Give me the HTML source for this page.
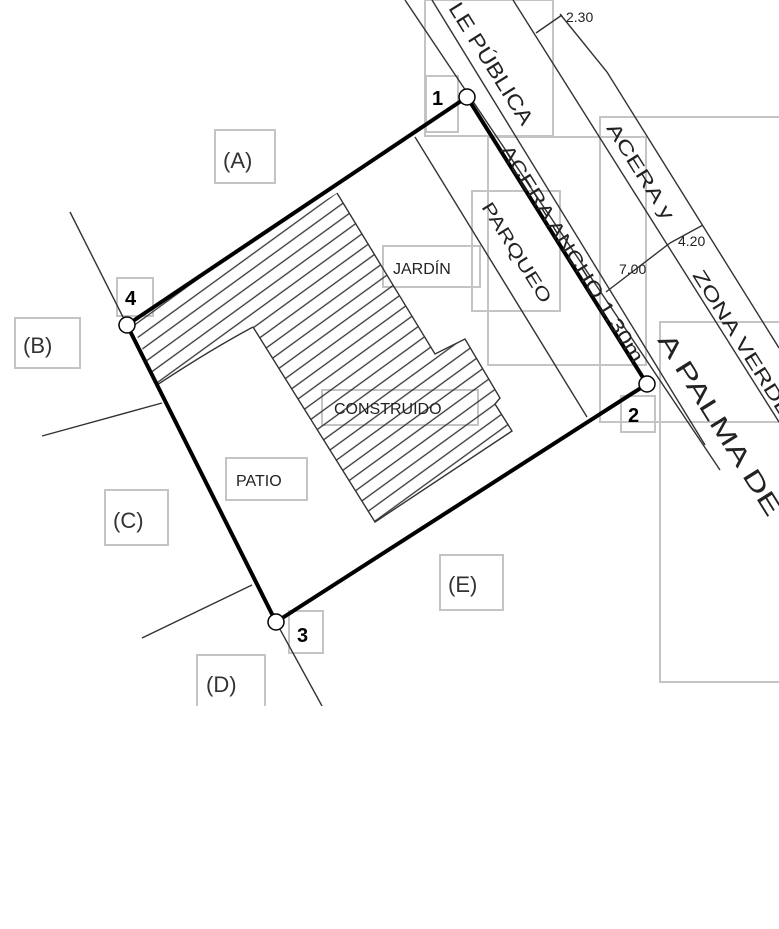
<!DOCTYPE html>
<html><head><meta charset="utf-8"><style>html,body{margin:0;padding:0;background:#fff}svg{display:block}</style></head>
<body>
<svg width="779" height="929" viewBox="0 0 779 929" xmlns="http://www.w3.org/2000/svg" font-family="'Liberation Sans', sans-serif">
<defs>
<pattern id="h" width="12" height="12" patternUnits="userSpaceOnUse" patternTransform="rotate(-36)">
<line x1="0" y1="6" x2="12" y2="6" stroke="#333" stroke-width="1.3"/>
</pattern>
<clipPath id="c"><rect x="0" y="0" width="779" height="706"/></clipPath>
</defs>
<g clip-path="url(#c)">
<g fill="none" stroke="#c4c4c4" stroke-width="2">
<rect x="425" y="0" width="128" height="136"/>
<rect x="488" y="137" width="158" height="228"/>
<rect x="472" y="191" width="88" height="120"/>
<rect x="600" y="117" width="190" height="305"/>
<rect x="660" y="322" width="130" height="360"/>
<rect x="383" y="246" width="97" height="41"/>
<rect x="322" y="390" width="156" height="35"/>
<rect x="226" y="458" width="81" height="42"/>
<rect x="215" y="130" width="60" height="53"/>
<rect x="15" y="318" width="65" height="50"/>
<rect x="105" y="490" width="63" height="55"/>
<rect x="197" y="655" width="68" height="52"/>
<rect x="440" y="555" width="63" height="55"/>
<rect x="426" y="76" width="32" height="56"/>
<rect x="117" y="278" width="36" height="38"/>
<rect x="621" y="396" width="34" height="36"/>
<rect x="289" y="611" width="34" height="42"/>
</g>
<path d="M131,321 L337,193 L435,354 L465,339 L500,398 L495,404 L512,431 L375,522 L253,327 Q210,350 157,385 Z" fill="url(#h)" stroke="none"/>
<polyline points="337,193 435,354 465,339 500,398 495,404 512,431 375,522 253,327" fill="none" stroke="#333" stroke-width="1.4"/>
<path d="M253,327 Q210,350 157,385" fill="none" stroke="#333" stroke-width="1.4"/>
<g stroke="#333" stroke-width="1.4" fill="none">
<line x1="405" y1="0" x2="720" y2="470"/>
<line x1="432" y1="0" x2="705" y2="445"/>
<line x1="415" y1="137" x2="587" y2="417"/>
<line x1="513" y1="0" x2="779" y2="422"/>
<polyline points="560,14 607,72 779,348"/>
<line x1="70" y1="212" x2="127" y2="325"/>
<line x1="276" y1="622" x2="322" y2="706"/>
<line x1="42" y1="436" x2="162" y2="403"/>
<line x1="142" y1="638" x2="252" y2="585"/>
<line x1="536" y1="33" x2="562" y2="15"/>
<line x1="606" y1="292" x2="670" y2="243"/>
<line x1="670" y1="243" x2="703" y2="225"/>
</g>
<polygon points="467,97 647,384 276,622 127,325" fill="none" stroke="#000" stroke-width="4"/>
<g fill="#fff" stroke="#000" stroke-width="1.5">
<circle cx="467" cy="97" r="8"/><circle cx="647" cy="384" r="8"/><circle cx="276" cy="622" r="8"/><circle cx="127" cy="325" r="8"/>
</g>
<g fill="#333" font-size="22">
<text x="223" y="168">(A)</text>
<text x="23" y="353">(B)</text>
<text x="113" y="528">(C)</text>
<text x="206" y="692">(D)</text>
<text x="448" y="592">(E)</text>
</g>
<g fill="#000" font-size="20" font-weight="bold">
<text x="432" y="105">1</text>
<text x="125" y="305">4</text>
<text x="628" y="422">2</text>
<text x="297" y="642">3</text>
</g>
<g fill="#222" font-size="16">
<text x="393" y="274">JARDÍN</text>
<text x="334" y="414">CONSTRUIDO</text>
<text x="236" y="486">PATIO</text>
<text x="566" y="22" font-size="14">2.30</text>
<text x="678" y="246" font-size="14">4.20</text>
<text x="619" y="274" font-size="14">7.00</text>
</g>
<g fill="#222">
<text transform="translate(448,8) rotate(58)" font-size="21" textLength="140" lengthAdjust="spacingAndGlyphs">LE PÚBLICA</text>
<text transform="translate(500,150) rotate(58)" font-size="19" textLength="252" lengthAdjust="spacingAndGlyphs">ACERA ANCHO 1.30m</text>
<text transform="translate(481,207) rotate(58)" font-size="18" textLength="115" lengthAdjust="spacingAndGlyphs">PARQUEO</text>
<text transform="translate(606,128) rotate(58)" font-size="19" textLength="110" lengthAdjust="spacingAndGlyphs">ACERA y</text>
<text transform="translate(692,275) rotate(58)" font-size="19" textLength="170" lengthAdjust="spacingAndGlyphs">ZONA VERDE</text>
<text transform="translate(657,340) rotate(58)" font-size="25" textLength="210" lengthAdjust="spacingAndGlyphs">A PALMA DE</text>
</g>
</g>
</svg>
</body></html>
